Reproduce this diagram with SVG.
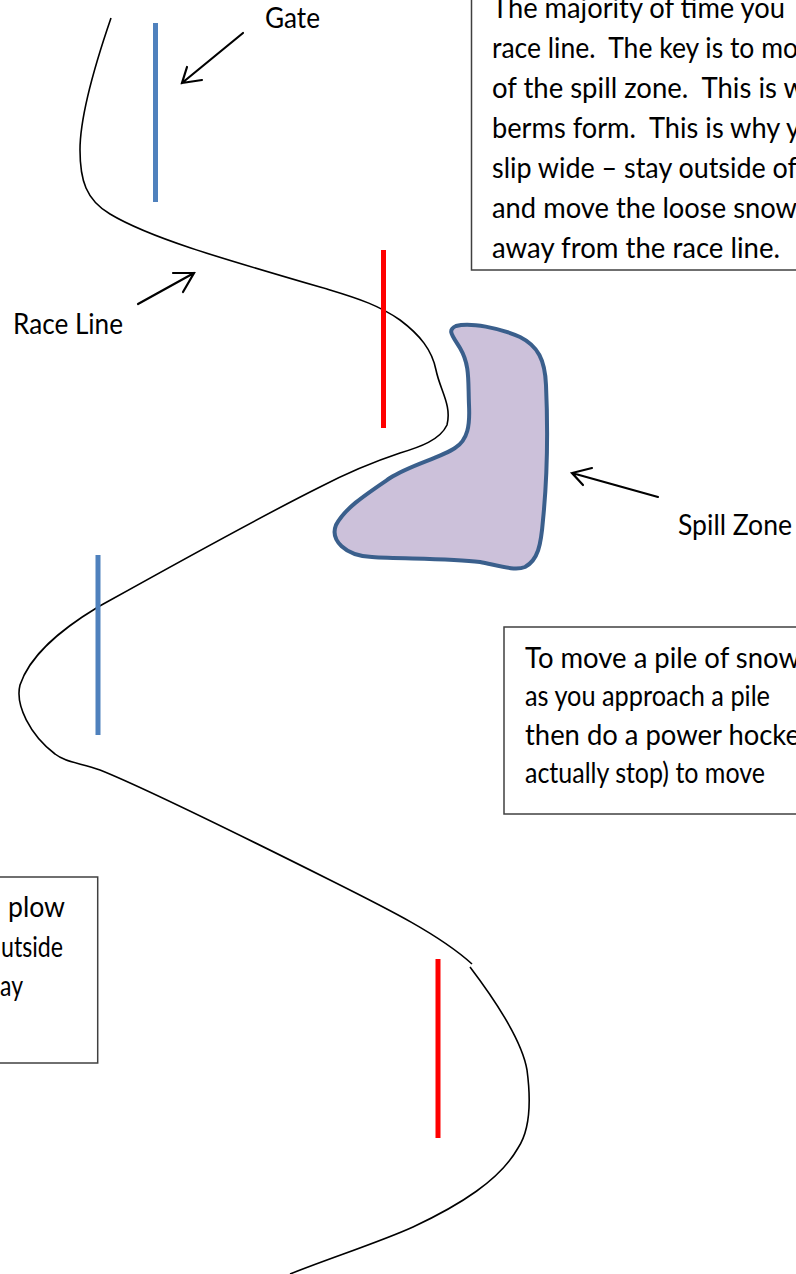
<svg xmlns="http://www.w3.org/2000/svg" width="796" height="1274" viewBox="0 0 796 1274">
<defs>
<style>
.t{font-family:Lato,"Open Sans","Liberation Sans",sans-serif;font-size:29px;fill:#000}
.box{fill:#fff;stroke:#404040;stroke-width:1.5}
.blue{stroke:#4F81BD;stroke-width:5}
.red{stroke:#FF0000;stroke-width:5}
.race{fill:none;stroke:#000;stroke-width:1.6}
.arr{fill:none;stroke:#000;stroke-width:2.2;stroke-linecap:round}
</style>
</defs>
<rect width="796" height="1274" fill="#fff"/>
<g id="race-line" class="connectors">
<path class="race" d="M111,18 C100,50 80,110 80,150 C80,180 86,200 110,214 C150,238 220,258 330,290 C360,299 380,306 400,320 C420,335 432,350 436,370 C440,390 452,405 447,425 C440,440 420,447 400,453 C370,463 345,474 320,487 C250,522 150,578 98,607 C60,630 30,655 20,685 C15,705 30,735 55,754 C65,762 80,763 100,770 C150,790 250,840 330,880 C390,910 440,935 472,964"/>
<path class="race" d="M470,967 C495,1000 522,1040 527,1070 C531,1100 530,1130 518,1148 C500,1180 460,1205 413,1227 C380,1242 330,1258 290,1274"/>
</g>
<g id="gates">
<line class="blue" x1="155.5" y1="23" x2="155.5" y2="202"/>
<line class="red" x1="383.5" y1="250" x2="383.5" y2="428"/>
<line class="blue" x1="98" y1="555" x2="98" y2="735"/>
<line class="red" x1="438" y1="959" x2="438" y2="1138"/>
</g>
<g id="spill-zone">
<path d="M456,326 C470,322 500,328 520,337 C538,346 545,360 546,385 C548,430 547,480 543,520 C541,545 538,560 525,567 C515,571 500,566 480,562 C450,558 400,559 372,557 C345,556 330,540 336,525 C345,508 365,495 390,478 C410,465 440,458 455,448 C468,440 470,425 469,405 C468,380 470,365 460,348 C452,335 447,330 456,326 Z" fill="#CCC1DA" stroke="#3A5F8C" stroke-width="4"/>
</g>
<g id="label-arrows">
<path class="arr" d="M243,33 L182,83 M187,67 L182,83 L202,80"/>
<path class="arr" d="M138,304 L194,273 M173,273 L194,273 L183,292"/>
<path class="arr" d="M658,497 L572,473 M592,468 L572,473 L583,485"/>
</g>
<g id="labels">
<text class="t" x="265" y="28" textLength="55" lengthAdjust="spacingAndGlyphs">Gate</text>
<text class="t" x="13" y="334" textLength="110" lengthAdjust="spacingAndGlyphs">Race Line</text>
<text class="t" x="678" y="535" textLength="114" lengthAdjust="spacingAndGlyphs">Spill Zone</text>
</g>
<g id="note-top">
<rect class="box" x="471.5" y="-10" width="340" height="280"/>
<text class="t" xml:space="preserve" x="492" y="18" textLength="293" lengthAdjust="spacingAndGlyphs">The majority of time you</text>
<text class="t" xml:space="preserve" x="492" y="58" textLength="306" lengthAdjust="spacingAndGlyphs">race line.  The key is to mo</text>
<text class="t" xml:space="preserve" x="492" y="98" textLength="313" lengthAdjust="spacingAndGlyphs">of the spill zone.  This is w</text>
<text class="t" xml:space="preserve" x="492" y="138" textLength="308" lengthAdjust="spacingAndGlyphs">berms form.  This is why y</text>
<text class="t" xml:space="preserve" x="492" y="178" textLength="305" lengthAdjust="spacingAndGlyphs">slip wide – stay outside of</text>
<text class="t" xml:space="preserve" x="492" y="218" textLength="305" lengthAdjust="spacingAndGlyphs">and move the loose snow</text>
<text class="t" xml:space="preserve" x="492" y="258" textLength="288" lengthAdjust="spacingAndGlyphs">away from the race line.</text>
</g>
<g id="note-right">
<rect class="box" x="504" y="627" width="310" height="187"/>
<text class="t" x="525" y="668" textLength="275" lengthAdjust="spacingAndGlyphs">To move a pile of snow</text>
<text class="t" x="525" y="706" textLength="245" lengthAdjust="spacingAndGlyphs">as you approach a pile</text>
<text class="t" x="525" y="745" textLength="275" lengthAdjust="spacingAndGlyphs">then do a power hocke</text>
<text class="t" x="525" y="783" textLength="240" lengthAdjust="spacingAndGlyphs">actually stop) to move</text>
</g>
<g id="note-left">
<rect class="box" x="-10" y="877" width="107.7" height="186"/>
<text class="t" x="8" y="917" textLength="57" lengthAdjust="spacingAndGlyphs">plow</text>
<text class="t" x="1" y="957" textLength="62" lengthAdjust="spacingAndGlyphs">utside</text>
<text class="t" x="0" y="996" textLength="23" lengthAdjust="spacingAndGlyphs">ay</text>
</g>
</svg>
